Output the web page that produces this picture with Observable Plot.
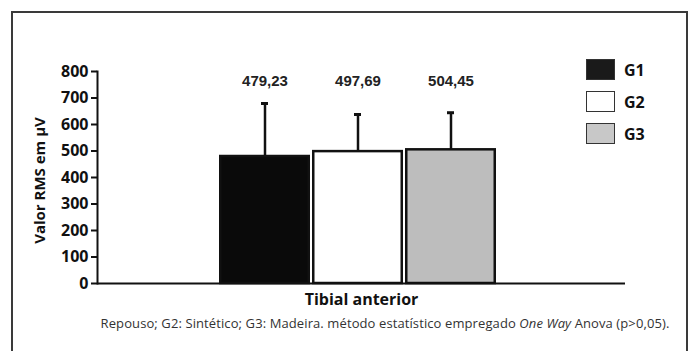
<!DOCTYPE html>
<html>
<head>
<meta charset="utf-8">
<script src="https://cdn.jsdelivr.net/npm/d3@7"></script>
<script src="https://cdn.jsdelivr.net/npm/@observablehq/plot@0.6"></script>
<style>
  html, body { margin: 0; padding: 0; background: #fff; }
  #wrap { position: relative; width: 694px; height: 351px; overflow: hidden; font-family: "Open Sans", sans-serif; }
  #box { position: absolute; left: 11px; top: 11px; width: 677px; height: 400px; border: 2px solid #3a3a3a; box-sizing: border-box; }
  #chart { position: absolute; left: 0; top: 0; }
  #legend { position: absolute; left: 586px; top: 59px; }
  .item { display: flex; align-items: center; height: 21px; margin-bottom: 11px; }
  .sw { width: 29px; height: 21px; box-sizing: border-box; border: 1.5px solid #333; }
  .lab { margin-left: 9px; font-weight: 700; font-size: 16px; color: #111; }
  #caption { position: absolute; left: 0; width: 694px; top: 314px; text-align: center; font-size: 13px; letter-spacing: 0.1px; color: #333; padding-left: 76px; box-sizing: border-box; white-space: nowrap; }
</style>
</head>
<body>
<div id="wrap">
  <div id="box"></div>
  <div id="chart"></div>
  <div id="legend"></div>
  <div id="caption">Repouso; G2: Sintético; G3: Madeira. método estatístico empregado <i>One Way</i> Anova (p&gt;0,05).</div>
</div>
<script>
const groups = ["G1", "G2", "G3"];
const means = [479.23, 497.69, 504.45];
const sds = [200, 140, 140];
const meanLabels = ["479,23", "497,69", "504,45"];
const fills = ["#0a0a0a", "#ffffff", "#bdbdbd"];
const legendFills = ["#1a1a1a", "#ffffff", "#c8c8c8"];
const yTicks = [0, 100, 200, 300, 400, 500, 600, 700, 800];
const yLabel = "Valor RMS em µV";
const xLabel = "Tibial anterior";

const data = groups.map((g, i) => ({group: g, mean: means[i], top: means[i] + sds[i], label: meanLabels[i], fill: fills[i]}));

const chart = Plot.plot({
  width: 694,
  height: 351,
  marginLeft: 97,
  marginRight: 69,
  marginTop: 71,
  marginBottom: 68,
  style: {background: "transparent", fontFamily: "Open Sans, sans-serif"},
  x: {domain: groups, paddingInner: 0.02, paddingOuter: 1.33, align: 0.486, axis: null},
  y: {domain: [0, 800], axis: null},
  marks: [
    Plot.ruleX(data, {x: "group", y1: "mean", y2: "top", stroke: "#111", strokeWidth: 2.5}),
    Plot.tickY(data, {x: "group", y: "top", stroke: "#111", strokeWidth: 3, insetLeft: 42, insetRight: 42}),
    Plot.barY(data, {x: "group", y: "mean", fill: "fill", stroke: "#111", strokeWidth: 2.5, insetLeft: 1.25, insetRight: 1.25}),
    Plot.axisY({ticks: yTicks, tickSize: 6, tickPadding: 3, tickFormat: d => String(d), fontSize: 16, fontWeight: 700, stroke: "#111", strokeWidth: 2, fill: "#111"}),
    Plot.frame({anchor: "left", stroke: "#111", strokeWidth: 2}),
    Plot.ruleY([0], {stroke: "#111", strokeWidth: 2}),
    Plot.text(data, {x: "group", text: "label", frameAnchor: "top", dy: 4, fontSize: 15, fontWeight: 700, fill: "#222", fontFamily: "Liberation Sans, Arial, sans-serif"}),
    Plot.text([yLabel], {text: d => d, frameAnchor: "left", textAnchor: "middle", rotate: -90, dx: -57, dy: 3, fontSize: 15, fontWeight: 700, fill: "#111"}),
    Plot.text([xLabel], {text: d => d, frameAnchor: "bottom", dy: 21, fontSize: 16, fontWeight: 700, fill: "#111"})
  ]
});
document.getElementById("chart").appendChild(chart);

const legend = document.getElementById("legend");
groups.forEach((g, i) => {
  const item = document.createElement("div");
  item.className = "item";
  const sw = document.createElement("div");
  sw.className = "sw";
  sw.style.background = legendFills[i];
  const lab = document.createElement("span");
  lab.className = "lab";
  lab.textContent = g;
  item.appendChild(sw);
  item.appendChild(lab);
  legend.appendChild(item);
});
</script>
</body>
</html>
